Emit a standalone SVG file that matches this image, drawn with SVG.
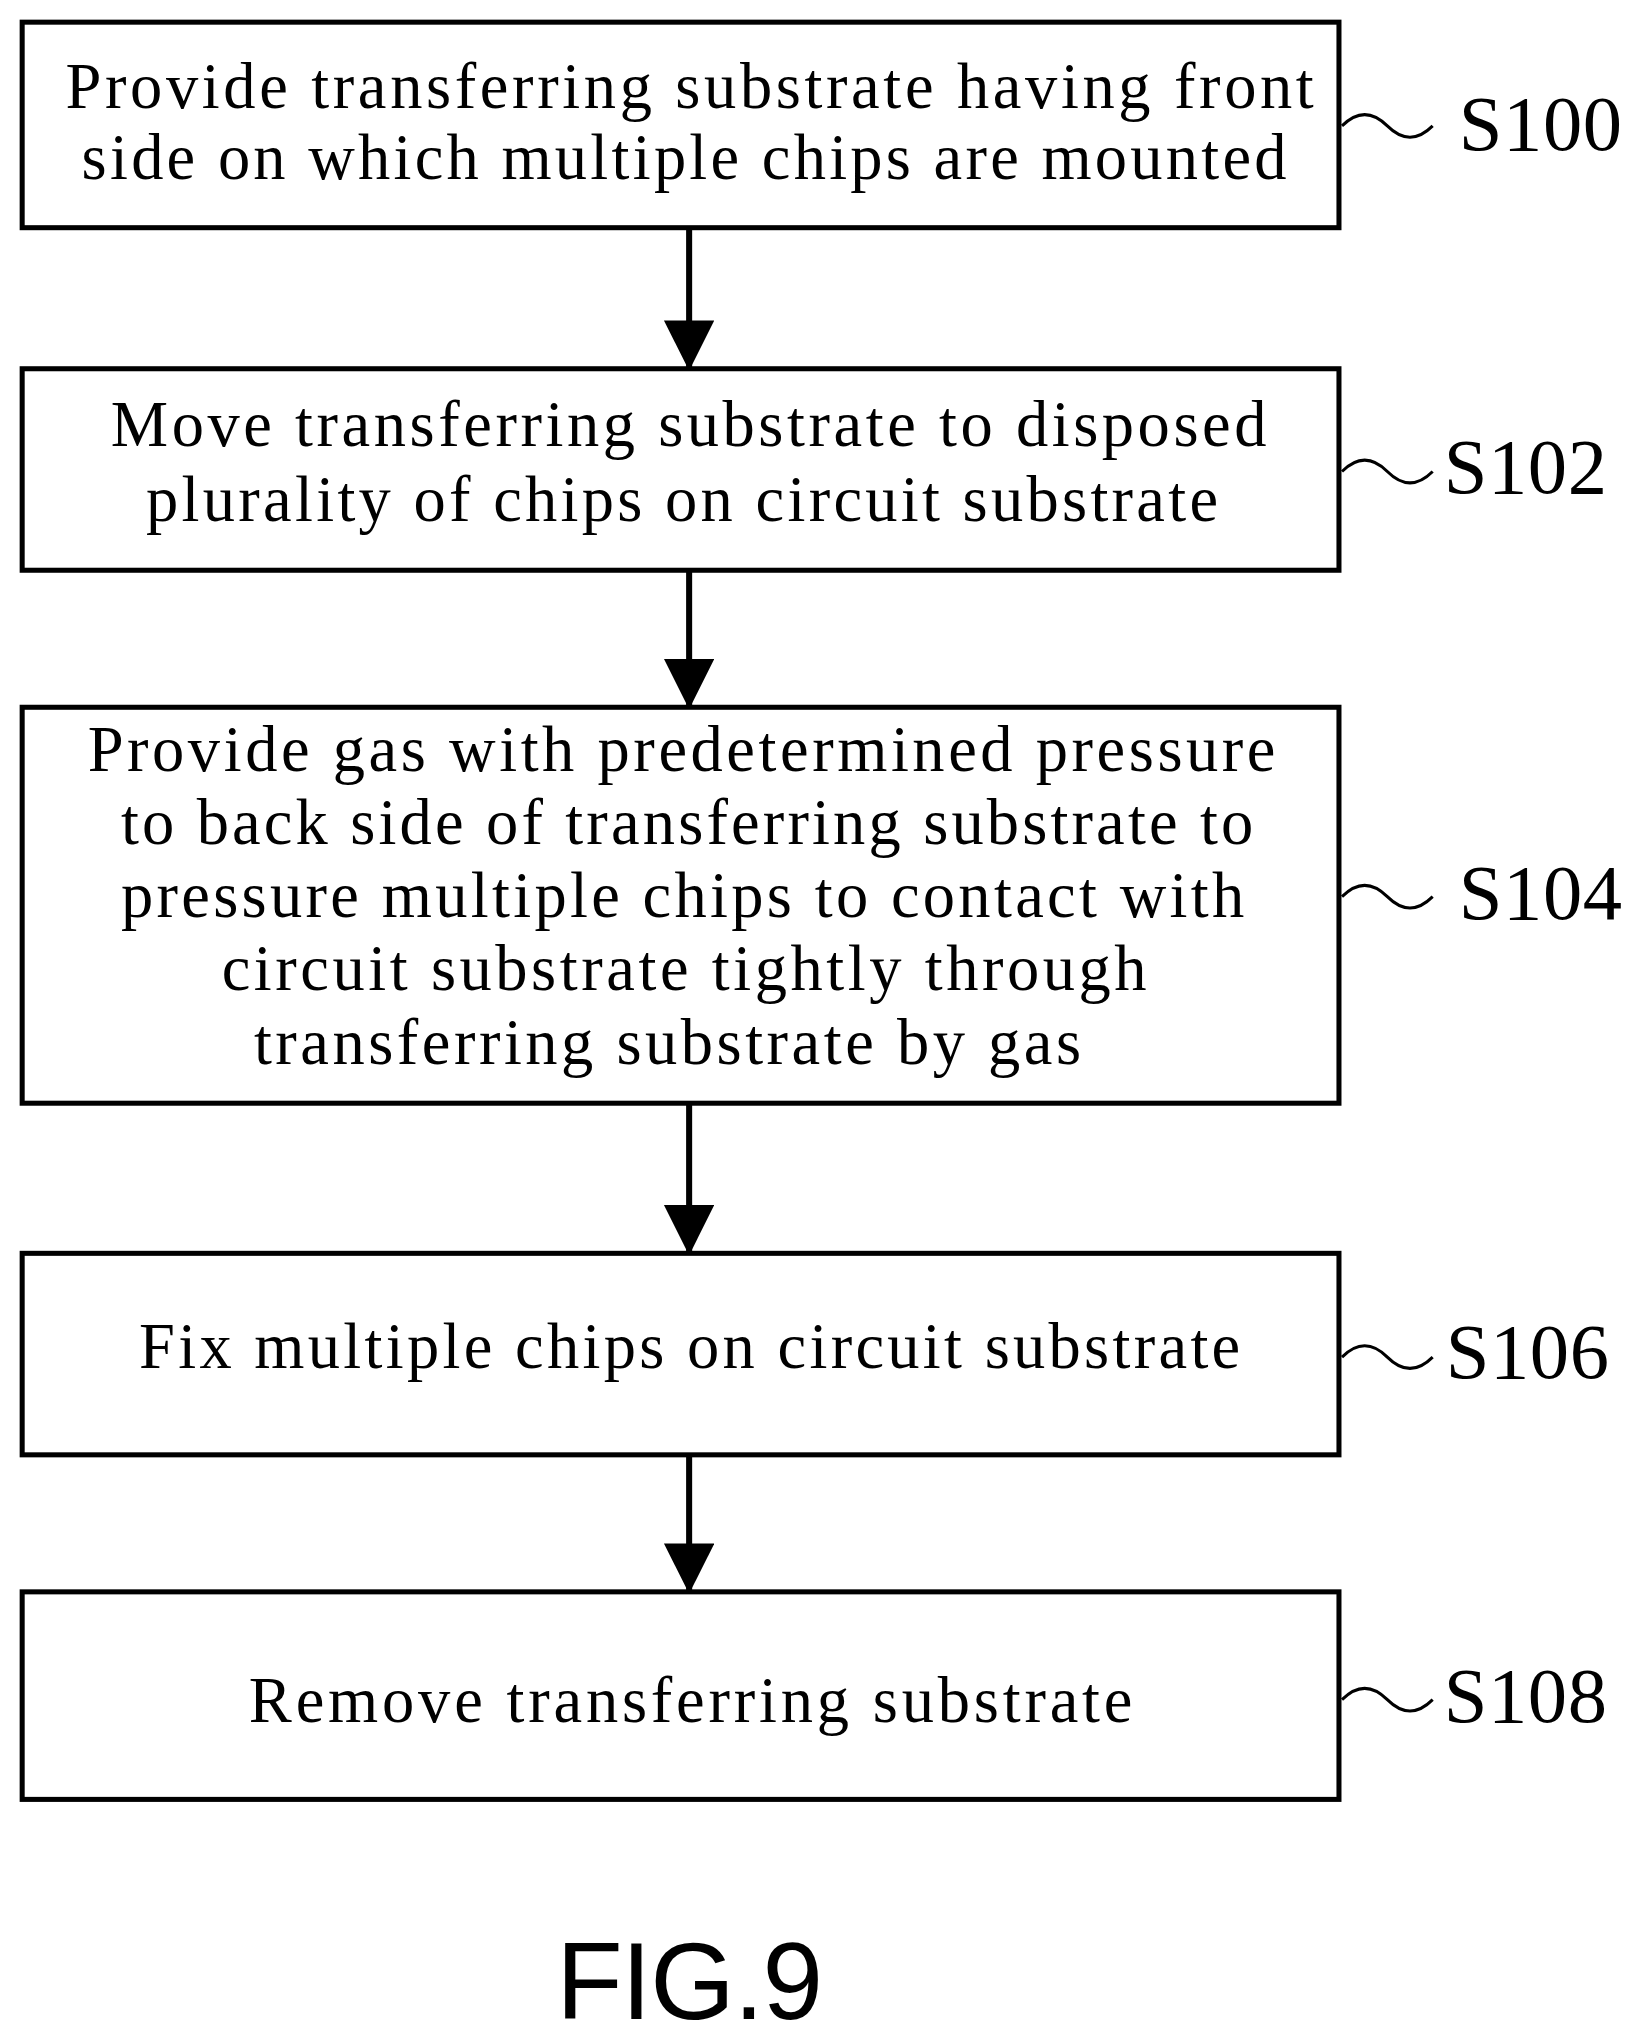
<svg xmlns="http://www.w3.org/2000/svg" width="1642" height="2041" viewBox="0 0 1642 2041">
<style>
.b{fill:#fff;stroke:#000;stroke-width:5}
.t{font-family:"Liberation Serif",serif;font-size:64px;fill:#000}
.l{font-family:"Liberation Serif",serif;font-size:78px;fill:#000}
.s{fill:none;stroke:#000;stroke-width:3}
.c{stroke:#000;stroke-width:6}
</style>
<defs><marker id="a" markerUnits="userSpaceOnUse" markerWidth="50" markerHeight="54" refX="48" refY="25" orient="auto"><path d="M0,0L50,25L0,50Z" fill="#000"/></marker></defs>
<rect width="1642" height="2041" fill="#fff"/>
<g transform="scale(1.0075)">
<g id="connectors">
<line class="c" x1="684" y1="226" x2="684" y2="366" marker-end="url(#a)"/>
<line class="c" x1="684" y1="566" x2="684" y2="702" marker-end="url(#a)"/>
<line class="c" x1="684" y1="1095" x2="684" y2="1244" marker-end="url(#a)"/>
<line class="c" x1="684" y1="1444" x2="684" y2="1580" marker-end="url(#a)"/>
</g>
<g id="S100"><rect class="b" x="22" y="22" width="1307" height="204"/>
<text class="t" x="65" y="107" textLength="1239" lengthAdjust="spacing">Provide transferring substrate having front</text>
<text class="t" x="81" y="178" textLength="1196" lengthAdjust="spacing">side on which multiple chips are mounted</text>
<path class="s" d="M1332,125c15,-15 30,-15 45,0s30,15 45,0"/><text class="l" x="1448" y="149" textLength="162">S100</text></g>
<g id="S102"><rect class="b" x="22" y="366" width="1307" height="200"/>
<text class="t" x="110" y="443" textLength="1147" lengthAdjust="spacing">Move transferring substrate to disposed</text>
<text class="t" x="145" y="517" textLength="1064" lengthAdjust="spacing">plurality of chips on circuit substrate</text>
<path class="s" d="M1332,468c15,-15 30,-15 45,0s30,15 45,0"/><text class="l" x="1433" y="489" textLength="162">S102</text></g>
<g id="S104"><rect class="b" x="22" y="702" width="1307" height="393"/>
<text class="t" x="87" y="765" textLength="1179" lengthAdjust="spacing">Provide gas with predetermined pressure</text>
<text class="t" x="120" y="838" textLength="1124" lengthAdjust="spacing">to back side of transferring substrate to</text>
<text class="t" x="120" y="910" textLength="1115" lengthAdjust="spacing">pressure multiple chips to contact with</text>
<text class="t" x="220" y="983" textLength="918" lengthAdjust="spacing">circuit substrate tightly through</text>
<text class="t" x="252" y="1056" textLength="821" lengthAdjust="spacing">transferring substrate by gas</text>
<path class="s" d="M1332,890c15,-15 30,-15 45,0s30,15 45,0"/><text class="l" x="1448" y="912" textLength="162">S104</text></g>
<g id="S106"><rect class="b" x="22" y="1244" width="1307" height="200"/>
<text class="t" x="138" y="1358" textLength="1093" lengthAdjust="spacing">Fix multiple chips on circuit substrate</text>
<path class="s" d="M1332,1347c15,-15 30,-15 45,0s30,15 45,0"/><text class="l" x="1435" y="1368" textLength="162">S106</text></g>
<g id="S108"><rect class="b" x="22" y="1580" width="1307" height="206"/>
<text class="t" x="247" y="1709" textLength="877" lengthAdjust="spacing">Remove transferring substrate</text>
<path class="s" d="M1332,1687c15,-15 30,-15 45,0s30,15 45,0"/><text class="l" x="1433" y="1709" textLength="162">S108</text></g>
<text x="552" y="2004" font-family="Liberation Sans,sans-serif" font-size="108" textLength="265">FIG.9</text>
</g>
</svg>
